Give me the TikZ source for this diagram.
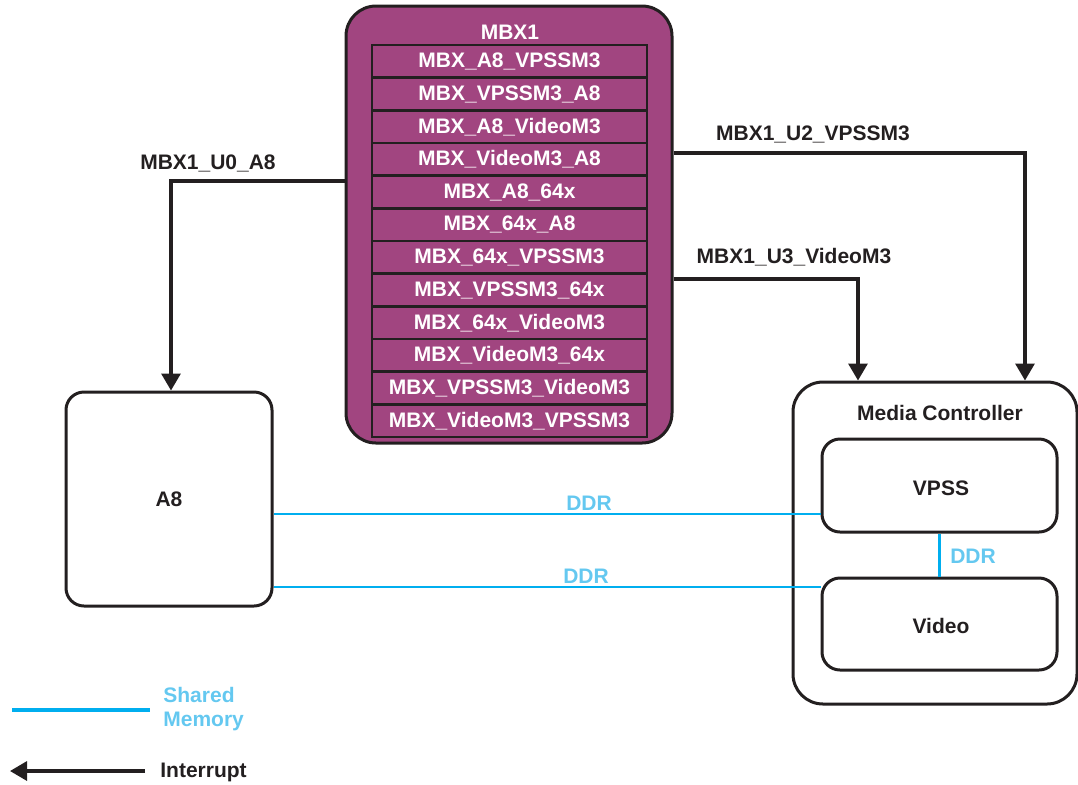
\documentclass[tikz,border=0pt]{standalone}
\usepackage{fontspec}
\setmainfont{Liberation Sans}
\usetikzlibrary{arrows.meta,calc,positioning}
\definecolor{MbxPurple}{RGB}{161,69,128}
\definecolor{ShmBlue}{RGB}{0,174,239}
\definecolor{ShmText}{RGB}{100,200,240}
\definecolor{LineBlack}{RGB}{35,31,32}

\begin{document}
\begin{tikzpicture}[x=0.5pt,y=-0.5pt,>={Triangle[length=8.5pt,width=9.5pt]},
    lbl/.style={font=\fontsize{10.5}{12}\selectfont\bfseries,text=LineBlack,inner sep=0pt},
    ddrlbl/.style={font=\fontsize{10.5}{12}\selectfont\bfseries,text=ShmText,inner sep=0pt},
    mbxouter/.style={draw=LineBlack,line width=1.5pt,fill=MbxPurple,rounded corners=15pt,
      minimum width=163pt,minimum height=218.5pt,inner sep=0pt},
    mbxrow/.style={draw=LineBlack,line width=1.4pt,fill=MbxPurple,minimum width=137.5pt,
      minimum height=16.33pt,inner sep=0pt,text=white,font=\fontsize{10.5}{12}\selectfont\bfseries},
    core/.style={draw=LineBlack,line width=1.5pt,fill=white,rounded corners=9pt,inner sep=0pt},
    intr/.style={->,draw=LineBlack,line width=1.6pt},
    shm/.style={draw=ShmBlue,line width=1.2pt}]
  \useasboundingbox (0,0) rectangle (1078,784);

  % mailbox block
  \node[mbxouter] (mbx) at (509,224.5) {};
  \node[lbl,text=white] (mbxtitle) at (510,32) {MBX1};
  \foreach \name [count=\i] in {MBX\_A8\_VPSSM3,MBX\_VPSSM3\_A8,MBX\_A8\_VideoM3,
      MBX\_VideoM3\_A8,MBX\_A8\_64x,MBX\_64x\_A8,MBX\_64x\_VPSSM3,MBX\_VPSSM3\_64x,
      MBX\_64x\_VideoM3,MBX\_VideoM3\_64x,MBX\_VPSSM3\_VideoM3,MBX\_VideoM3\_VPSSM3}
    \node[mbxrow] (row\i) at (509.5,{45+32.67*(\i-0.5)}) {\name};

  % cores
  \node[core,minimum width=103pt,minimum height=107pt] (a8) at (169,499) {};
  \node[lbl] (a8lbl) at (169,499) {A8};
  \node[core,rounded corners=15pt,minimum width=142pt,minimum height=161pt] (mc) at (935,543) {};
  \node[lbl] (mclbl) at (940,413) {Media Controller};
  \node[core,minimum width=117.5pt,minimum height=46.5pt] (vpss) at (939.5,485.5) {};
  \node[lbl] (vpsslbl) at (941,488) {VPSS};
  \node[core,minimum width=117.5pt,minimum height=46pt] (video) at (939.5,624) {};
  \node[lbl] (videolbl) at (941,626) {Video};

  % interrupts
  \draw[intr] (mbx.west |- 0,181) -| (a8.north -| 171,0);
  \node[lbl] (u0) at (208,163) {MBX1\_U0\_A8};
  \draw[intr] (mbx.east |- 0,153) -| (mc.north -| 1025,0);
  \node[lbl] (u2) at (813,134) {MBX1\_U2\_VPSSM3};
  \draw[intr] (mbx.east |- 0,279) -| (mc.north -| 858,0);
  \node[lbl] (u3) at (794,257) {MBX1\_U3\_VideoM3};

  % shared memory
  \draw[shm] (a8.east |- 0,514) -- (vpss.west |- 0,514);
  \node[ddrlbl] (ddr1) at (589,503) {DDR};
  \draw[shm] (a8.east |- 0,587) -- (video.west |- 0,587);
  \node[ddrlbl] (ddr2) at (586,576) {DDR};
  \draw[shm] (vpss.south) -- (video.north);
  \node[ddrlbl] (ddr3) at (973,556) {DDR};

  % legend
  \coordinate (shmA) at (12,710);
  \coordinate (shmB) at (150,710);
  \draw[shm,line width=1.6pt] (shmA) -- (shmB);
  \node[ddrlbl,align=left,anchor=west] (shmlbl) at (163,709) {Shared\\Memory};
  \coordinate (intA) at (145,771);
  \coordinate (intB) at (10,771);
  \draw[intr] (intA) -- (intB);
  \node[lbl,anchor=west] (intlbl) at (160,772) {Interrupt};
\end{tikzpicture}
\end{document}
